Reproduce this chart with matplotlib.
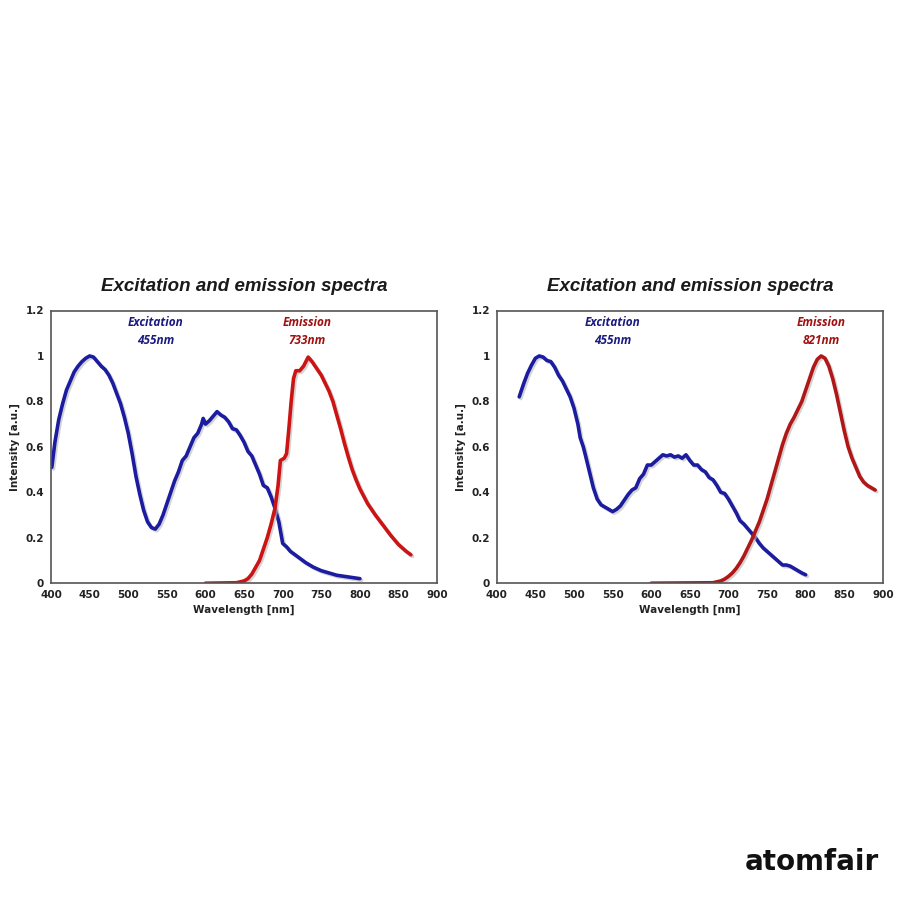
import matplotlib
matplotlib.use("Agg")
import matplotlib.pyplot as plt
import matplotlib.patheffects as pe

# left panel: excitation / emission 733nm
ex1_wl = [401, 405, 410, 415, 420, 425, 430, 435, 440, 445, 450, 455, 460, 465, 470,
          475, 480, 485, 490, 495, 500, 505, 510, 515, 520, 525, 530, 535, 540, 545,
          550, 555, 560, 565, 570, 575, 580, 585, 590, 595, 597, 600, 605, 610, 615,
          620, 625, 630, 635, 640, 645, 650, 655, 660, 665, 670, 675, 680, 685, 690,
          695, 700, 705, 710, 720, 730, 740, 750, 760, 770, 780, 790, 800]
ex1_int = [0.51, 0.62, 0.72, 0.79, 0.85, 0.89, 0.93, 0.955, 0.975, 0.99, 1.0, 0.995,
           0.975, 0.955, 0.94, 0.915, 0.88, 0.835, 0.79, 0.73, 0.66, 0.57, 0.47, 0.39,
           0.32, 0.27, 0.245, 0.238, 0.26, 0.30, 0.35, 0.40, 0.45, 0.49, 0.54, 0.56,
           0.60, 0.64, 0.66, 0.70, 0.725, 0.70, 0.715, 0.735, 0.755, 0.74, 0.73, 0.71,
           0.68, 0.675, 0.65, 0.62, 0.58, 0.56, 0.52, 0.48, 0.43, 0.42, 0.38, 0.33,
           0.27, 0.175, 0.16, 0.14, 0.115, 0.09, 0.07, 0.055, 0.045, 0.035, 0.03,
           0.025, 0.02]
em1_wl = [600, 640, 650, 655, 660, 665, 670, 675, 680, 685, 690, 694, 697, 702, 705,
          708, 711, 714, 717, 722, 727, 733, 738, 745, 750, 755, 760, 765, 770, 775,
          780, 785, 790, 795, 800, 810, 820, 830, 840, 850, 860, 866]
em1_int = [0.0, 0.002, 0.01, 0.02, 0.04, 0.07, 0.10, 0.15, 0.20, 0.26, 0.33, 0.43,
           0.54, 0.55, 0.57, 0.68, 0.80, 0.90, 0.935, 0.935, 0.955, 0.995, 0.975,
           0.94, 0.915, 0.88, 0.845, 0.80, 0.74, 0.68, 0.615, 0.555, 0.50, 0.455,
           0.415, 0.35, 0.30, 0.255, 0.21, 0.17, 0.14, 0.125]

# right panel: excitation / emission 821nm
ex2_wl = [429, 435, 440, 445, 450, 455, 460, 465, 470, 475, 480, 485, 490, 495, 500,
          505, 508, 512, 515, 520, 525, 530, 535, 540, 545, 550, 555, 560, 565, 570,
          575, 580, 585, 590, 595, 600, 605, 610, 615, 620, 625, 630, 635, 640, 645,
          650, 655, 660, 665, 670, 675, 680, 685, 690, 695, 700, 705, 710, 715, 720,
          725, 730, 735, 740, 745, 750, 755, 760, 765, 770, 775, 780, 785, 790, 795,
          800]
ex2_int = [0.82, 0.88, 0.925, 0.96, 0.99, 1.0, 0.995, 0.98, 0.975, 0.95, 0.915, 0.89,
           0.855, 0.82, 0.77, 0.70, 0.64, 0.60, 0.56, 0.49, 0.42, 0.37, 0.345, 0.335,
           0.325, 0.315, 0.325, 0.34, 0.365, 0.39, 0.41, 0.42, 0.46, 0.48, 0.52, 0.52,
           0.535, 0.55, 0.565, 0.56, 0.565, 0.555, 0.56, 0.55, 0.565, 0.54, 0.52, 0.52,
           0.50, 0.49, 0.465, 0.455, 0.43, 0.40, 0.395, 0.37, 0.34, 0.31, 0.275, 0.26,
           0.24, 0.22, 0.20, 0.175, 0.155, 0.14, 0.125, 0.11, 0.095, 0.08, 0.08, 0.075,
           0.065, 0.055, 0.045, 0.037]
em2_wl = [600, 680, 690, 695, 700, 705, 710, 715, 720, 725, 730, 735, 740, 745, 750,
          755, 760, 765, 770, 775, 780, 785, 790, 795, 800, 805, 810, 815, 820, 825,
          830, 835, 840, 845, 850, 855, 860, 865, 870, 875, 880, 885, 890]
em2_int = [0.0, 0.002, 0.01, 0.018, 0.03, 0.045, 0.065, 0.09, 0.12, 0.155, 0.19,
           0.23, 0.27, 0.32, 0.37, 0.43, 0.49, 0.55, 0.61, 0.66, 0.70, 0.73, 0.765,
           0.80, 0.85, 0.90, 0.95, 0.985, 1.0, 0.99, 0.955, 0.90, 0.83, 0.75, 0.67,
           0.60, 0.55, 0.51, 0.47, 0.445, 0.43, 0.42, 0.41]

panels = [
    (ex1_wl, ex1_int, em1_wl, em1_int, "733nm", 0.0567, 535, 732, "#cc1414"),
    (ex2_wl, ex2_int, em2_wl, em2_int, "821nm", 0.552, 550, 820, "#b01818"),
]

fig = plt.figure(figsize=(9, 9), dpi=100)
fig.patch.set_facecolor("white")

shadow = [pe.SimpleLineShadow(offset=(1.2, -1.2), shadow_color="#b8b8b8", alpha=0.6),
          pe.Normal()]

for ex_wl, ex_int, em_wl, em_int, em_lab, left, ex_x, em_x, red in panels:
    ax = fig.add_axes([left, 0.352, 0.429, 0.303])
    ax.plot(ex_wl, ex_int, color="#1c1ca0", lw=2.6, solid_capstyle="round",
            solid_joinstyle="round", path_effects=shadow)
    ax.plot(em_wl, em_int, color=red, lw=2.6, solid_capstyle="round",
            solid_joinstyle="round", path_effects=shadow)
    ax.set_xlim(400, 900)
    ax.set_ylim(0, 1.2)
    ax.set_xticks(range(400, 901, 50))
    ax.set_yticks([0, 0.2, 0.4, 0.6, 0.8, 1.0, 1.2])
    ax.set_yticklabels(["0", "0.2", "0.4", "0.6", "0.8", "1", "1.2"])
    ax.tick_params(length=0, pad=5, labelsize=7.5)
    for lab in ax.get_xticklabels() + ax.get_yticklabels():
        lab.set_fontweight("bold")
        lab.set_color("#222222")
    for s in ax.spines.values():
        s.set_color("#555555")
        s.set_linewidth(1.2)
    ax.set_xlabel("Wavelength [nm]", fontsize=7.5, fontweight="bold",
                  color="#222222", labelpad=3)
    ax.set_ylabel("Intensity [a.u.]", fontsize=7.5, fontweight="bold",
                  color="#222222", labelpad=4)
    ax.set_title("Excitation and emission spectra", fontsize=13.5,
                 fontweight="bold", fontstyle="italic", family="Liberation Sans",
                 color="#1a1a1a", pad=14)
    ax.text(ex_x, 1.108, "Excitation\n455nm", ha="center", va="center",
            fontsize=8.5, fontweight="bold", fontstyle="italic", color="#1a1a80",
            family="Open Sans", linespacing=1.45)
    ax.text(em_x, 1.108, "Emission\n" + em_lab, ha="center", va="center",
            fontsize=8.5, fontweight="bold", fontstyle="italic", color="#a01010",
            family="Open Sans", linespacing=1.45)

fig.text(0.977, 0.042, "atomfair", ha="right", va="center", fontsize=20,
         fontweight="bold", family="DejaVu Sans", color="#111111")

fig.savefig("out.png", dpi=100, facecolor="white")
